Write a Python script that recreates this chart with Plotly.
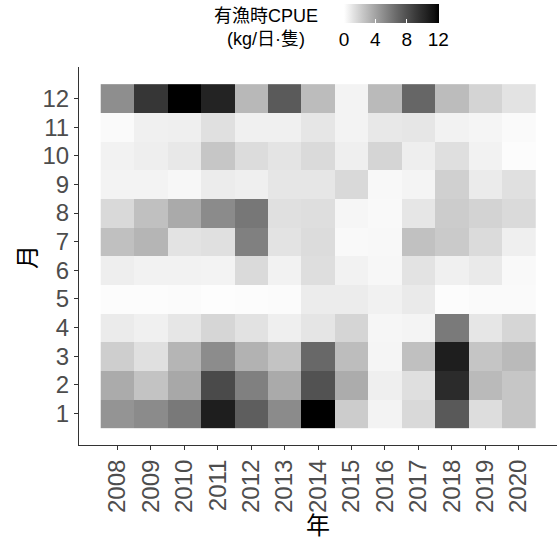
import plotly.graph_objects as go

years = [2008, 2009, 2010, 2011, 2012, 2013, 2014, 2015, 2016, 2017, 2018, 2019, 2020]
months = [1, 2, 3, 4, 5, 6, 7, 8, 9, 10, 11, 12]

# CPUE (kg/day/vessel) per month, one list per month, values by year
m1 = [4.68, 5.14, 5.95, 10.73, 7.28, 5.14, 12.10, 2.17, 0.50, 1.61, 7.53, 1.44, 2.44]
m2 = [3.64, 2.57, 3.77, 8.31, 5.62, 3.68, 7.89, 3.59, 0.67, 1.35, 9.98, 2.96, 2.44]
m3 = [2.09, 1.31, 3.19, 5.05, 3.32, 2.57, 6.78, 2.82, 0.42, 2.69, 10.73, 2.48, 2.96]
m4 = [0.84, 0.63, 1.05, 1.74, 1.22, 0.67, 1.09, 1.78, 0.38, 0.46, 5.90, 1.05, 1.74]
m5 = [0.13, 0.13, 0.17, 0.08, 0.13, 0.17, 0.80, 0.80, 0.59, 0.88, 0.13, 0.21, 0.21]
m6 = [0.71, 0.55, 0.55, 0.50, 1.57, 0.55, 1.39, 0.55, 0.34, 1.18, 0.63, 0.88, 0.25]
m7 = [2.69, 3.19, 1.18, 1.31, 5.62, 1.18, 1.48, 0.25, 0.29, 2.65, 2.26, 1.52, 0.67]
m8 = [1.61, 2.69, 3.68, 5.14, 6.05, 1.31, 1.39, 0.38, 0.25, 1.05, 2.17, 1.87, 1.57]
m9 = [0.50, 0.50, 0.34, 0.80, 0.67, 1.05, 1.05, 1.61, 0.29, 0.46, 2.00, 0.84, 1.31]
m10 = [0.55, 0.71, 0.97, 2.44, 1.48, 1.14, 1.57, 0.67, 1.78, 0.71, 1.35, 0.55, 0.13]
m11 = [0.21, 0.63, 0.67, 1.31, 0.63, 0.63, 1.05, 0.50, 0.97, 1.05, 0.55, 0.42, 0.21]
m12 = [4.96, 9.37, 12.10, 10.44, 3.05, 7.48, 2.87, 0.50, 3.00, 6.87, 2.87, 1.82, 1.18]

cb_ticks = [0, 4, 8, 12]

z = [m1, m2, m3, m4, m5, m6, m7, m8, m9, m10, m11, m12]


# white -> black gradient interpolated in CIE Lab lightness (like ggplot)
def lab_gray(t):
    L = 100.0 * (1 - t)
    Y = ((L + 16) / 116) ** 3 if L > 8 else L / 903.3
    c = 12.92 * Y if Y <= 0.0031308 else 1.055 * Y ** (1 / 2.4) - 0.055
    g = int(round(max(0, min(1, c)) * 255))
    return f"rgb({g},{g},{g})"


nstops = 21
colorscale = [[i / (nstops - 1), lab_gray(i / (nstops - 1))] for i in range(nstops)]

W, H = 558, 543
ml, mr, mt, mb = 79, 1, 67, 98
pw, ph = W - ml - mr, H - mt - mb


def px_x(x):
    return (x - ml) / pw


def px_y(y):
    return (H - mb - y) / ph


font_main = "Liberation Sans, Arial, Noto Sans CJK TC, sans-serif"
font_cjk = "Liberation Sans, Noto Sans CJK TC, Noto Sans CJK JP, sans-serif"

fig = go.Figure(
    go.Heatmap(
        x=years,
        y=months,
        z=z,
        zmin=0,
        zmax=12.1,
        colorscale=colorscale,
        xgap=0,
        ygap=0,
        colorbar=dict(
            orientation="h",
            thickness=19,
            thicknessmode="pixels",
            len=95,
            lenmode="pixels",
            x=px_x(344),
            xanchor="left",
            y=px_y(4),
            yanchor="top",
            xpad=0,
            ypad=0,
            outlinewidth=0,
            tickvals=cb_ticks,
            ticktext=[str(v) for v in cb_ticks],
            ticks="inside",
            tickcolor="white",
            ticklen=4,
            tickfont=dict(family=font_main, size=19, color="black"),
        ),
    )
)

fig.update_layout(
    width=W,
    height=H,
    margin=dict(l=ml, r=mr, t=mt, b=mb, pad=0),
    paper_bgcolor="white",
    plot_bgcolor="white",
    xaxis=dict(
        range=[2006.85, 2021.15],
        tickvals=years,
        ticktext=[str(y) for y in years],
        tickangle=-90,
        showgrid=False,
        zeroline=False,
        showline=True,
        linecolor="#333333",
        linewidth=1,
        ticks="outside",
        ticklen=4,
        tickcolor="#333333",
        tickfont=dict(family=font_main, size=24, color="#4D4D4D"),
    ),
    yaxis=dict(
        range=[-0.1, 13.1],
        tickvals=months,
        ticktext=[str(m) for m in months],
        showgrid=False,
        zeroline=False,
        showline=True,
        linecolor="#333333",
        linewidth=1,
        ticks="outside",
        ticklen=4,
        tickcolor="#333333",
        tickfont=dict(family=font_main, size=24, color="#4D4D4D"),
    ),
    annotations=[
        dict(
            text="年",
            x=px_x(318),
            y=px_y(525),
            xref="paper",
            yref="paper",
            xanchor="center",
            yanchor="middle",
            showarrow=False,
            font=dict(family=font_cjk, size=24, color="black"),
        ),
        dict(
            text="月",
            x=px_x(27),
            y=px_y(257),
            xref="paper",
            yref="paper",
            xanchor="center",
            yanchor="middle",
            textangle=-90,
            showarrow=False,
            font=dict(family=font_cjk, size=24, color="black"),
        ),
        dict(
            text="有漁時CPUE<br>(kg/日·隻)",
            x=px_x(266),
            y=px_y(28),
            xref="paper",
            yref="paper",
            xanchor="center",
            yanchor="middle",
            align="center",
            showarrow=False,
            font=dict(family=font_cjk, size=18, color="black"),
        ),
    ],
)

fig.write_html("out.html")
